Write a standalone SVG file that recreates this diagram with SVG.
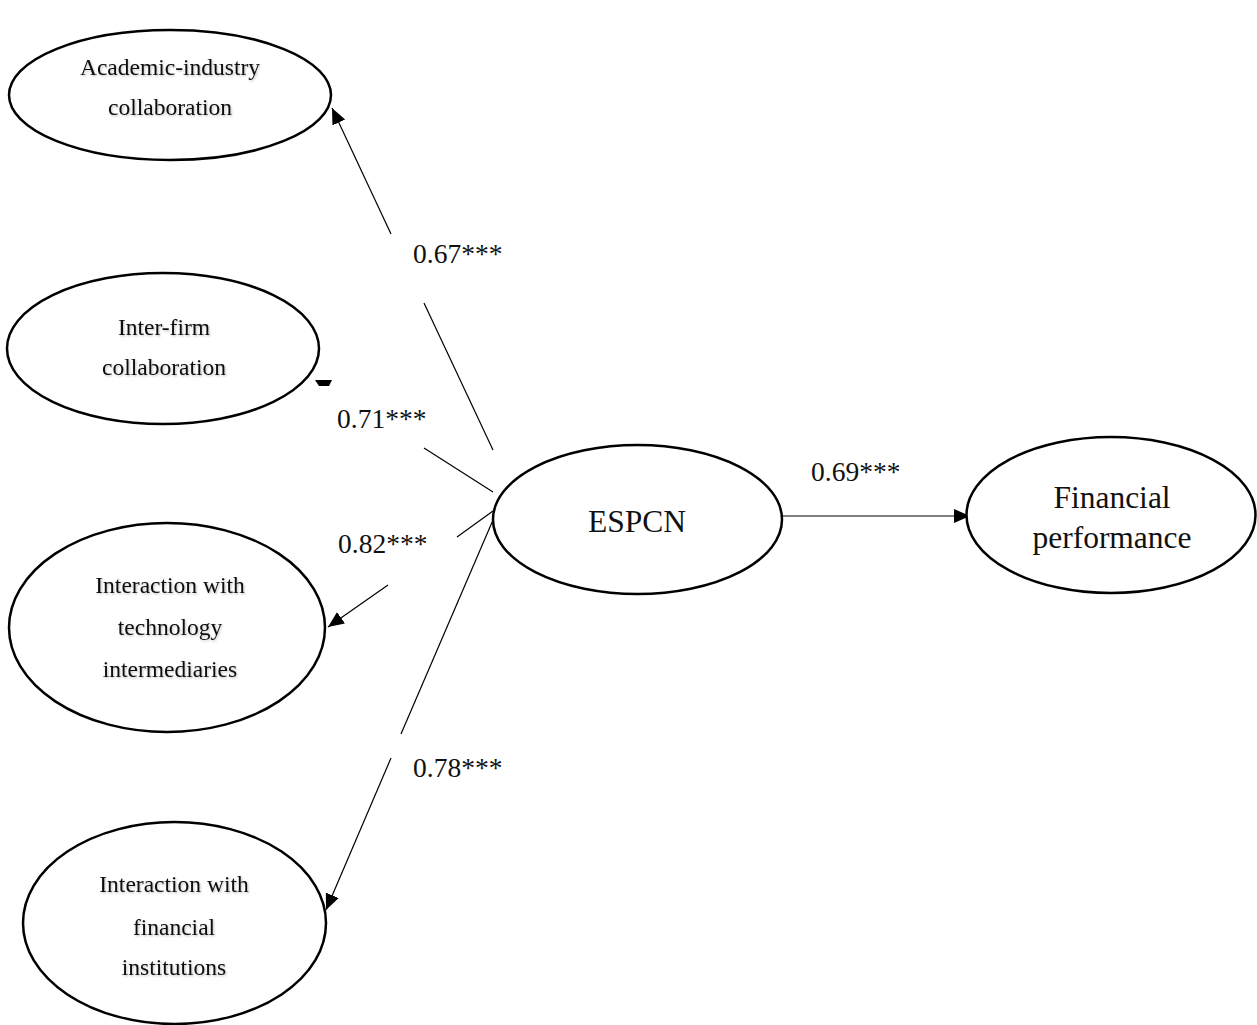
<svg xmlns="http://www.w3.org/2000/svg" width="1257" height="1025" viewBox="0 0 1257 1025">
  <style>
    .node { fill: #ffffff; stroke: #000000; stroke-width: 2.5; }
    .edge { fill: none; stroke: #000000; stroke-width: 1.2; }
    .small { font-family: "Liberation Serif", "Times New Roman", serif; font-size: 23.5px; fill: #111111; text-anchor: middle; }
    .big { font-family: "Liberation Serif", "Times New Roman", serif; font-size: 31.5px; fill: #111111; text-anchor: middle; }
    .coef { font-family: "Liberation Serif", "Times New Roman", serif; font-size: 27.5px; fill: #111111; }
  </style>
  <defs>
    <marker id="arrow" markerUnits="userSpaceOnUse" markerWidth="18" markerHeight="16" refX="16" refY="7" orient="auto">
      <path d="M0,0 L16,7 L0,14 z" fill="#000000"/>
    </marker>
    <filter id="soft" x="-10%" y="-30%" width="120%" height="160%">
      <feDropShadow dx="1" dy="1.2" stdDeviation="0.8" flood-color="#000000" flood-opacity="0.25"/>
    </filter>
  </defs>
  <rect width="1257" height="1025" fill="#ffffff"/>

  <!-- paths between the constructs -->
  <g id="connectors">
    <!-- ESPCN to academic-industry collaboration (broken around its coefficient) -->
    <line class="edge" x1="493" y1="450" x2="424" y2="303"/>
    <line class="edge" x1="391" y1="234" x2="332" y2="108" marker-end="url(#arrow)"/>
    <!-- ESPCN to inter-firm collaboration -->
    <line class="edge" x1="493" y1="492" x2="424" y2="448"/>
    <polygon points="315,380 332,380 329,386 319,386" fill="#000000"/>
    <!-- ESPCN to technology intermediaries -->
    <line class="edge" x1="493" y1="511" x2="457" y2="537"/>
    <line class="edge" x1="388" y1="585" x2="328" y2="627" marker-end="url(#arrow)"/>
    <!-- ESPCN to financial institutions -->
    <line class="edge" x1="493" y1="520" x2="401" y2="734"/>
    <line class="edge" x1="391" y1="758" x2="326" y2="910" marker-end="url(#arrow)"/>
    <!-- ESPCN to financial performance -->
    <line class="edge" x1="782" y1="516" x2="970" y2="516" marker-end="url(#arrow)"/>

    <text class="coef" x="413" y="263">0.67***</text>
    <text class="coef" x="337" y="428">0.71***</text>
    <text class="coef" x="338" y="553">0.82***</text>
    <text class="coef" x="413" y="777">0.78***</text>
    <text class="coef" x="811" y="481">0.69***</text>
  </g>

  <g id="academic-industry">
    <ellipse class="node" cx="170" cy="95" rx="161" ry="65"/>
    <g filter="url(#soft)">
      <text class="small" x="170" y="75">Academic-industry</text>
      <text class="small" x="170" y="115">collaboration</text>
    </g>
  </g>

  <g id="inter-firm">
    <ellipse class="node" cx="163" cy="348.5" rx="156" ry="75.5"/>
    <g filter="url(#soft)">
      <text class="small" x="164" y="335">Inter-firm</text>
      <text class="small" x="164" y="375">collaboration</text>
    </g>
  </g>

  <g id="technology-intermediaries">
    <ellipse class="node" cx="167" cy="627.5" rx="158" ry="104.5"/>
    <g filter="url(#soft)">
      <text class="small" x="170" y="593">Interaction with</text>
      <text class="small" x="170" y="635">technology</text>
      <text class="small" x="170" y="677">intermediaries</text>
    </g>
  </g>

  <g id="financial-institutions">
    <ellipse class="node" cx="174.5" cy="923" rx="151.5" ry="101"/>
    <g filter="url(#soft)">
      <text class="small" x="174" y="892">Interaction with</text>
      <text class="small" x="174" y="935">financial</text>
      <text class="small" x="174" y="975">institutions</text>
    </g>
  </g>

  <g id="espcn">
    <ellipse class="node" cx="637.5" cy="519.5" rx="144.5" ry="74.5"/>
    <text class="big" x="637" y="532">ESPCN</text>
  </g>

  <g id="financial-performance">
    <ellipse class="node" cx="1111" cy="515" rx="144.5" ry="78"/>
    <text class="big" x="1112" y="508">Financial</text>
    <text class="big" x="1112" y="548">performance</text>
  </g>
</svg>
